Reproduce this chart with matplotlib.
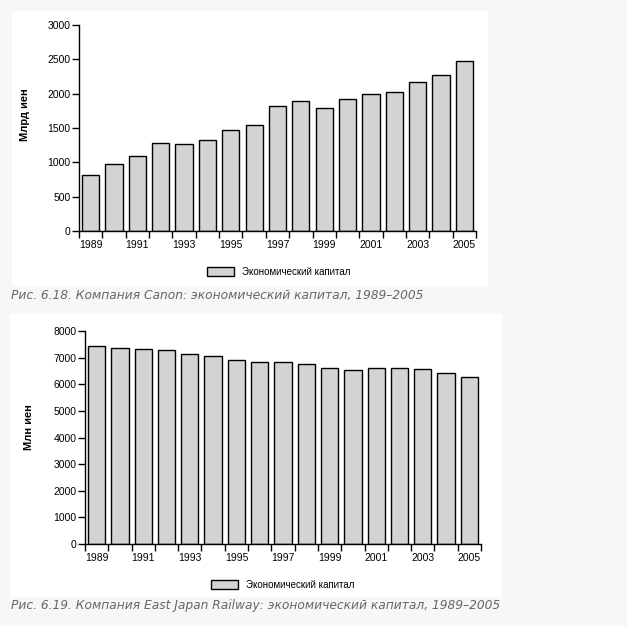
import matplotlib
matplotlib.use("Agg")
import matplotlib.pyplot as plt
from matplotlib.patches import Rectangle

years = list(range(1989, 2006))
year_labels = [str(y) if (y - 1989) % 2 == 0 else "" for y in years]
canon_capital = [810, 970, 1087, 1277, 1262, 1320, 1466, 1539, 1816, 1888,
                 1786, 1917, 1990, 2019, 2165, 2267, 2471]
jr_east_capital = [7453, 7378, 7341, 7303, 7154, 7079, 6929, 6854, 6854, 6742,
                   6629, 6517, 6629, 6629, 6554, 6404, 6255]
series_name = "Экономический капитал"
caption_top = "Рис. 6.18. Компания Canon: экономический капитал, 1989–2005"
caption_bottom = "Рис. 6.19. Компания East Japan Railway: экономический капитал, 1989–2005"

W, H = 627, 626
fig = plt.figure(figsize=(W / 100, H / 100), dpi=100)
fig.patch.set_facecolor("#f7f7f7")

def fx(px):
    return px / W

def fy(py):
    return 1 - py / H

def panel(x0, y0, x1, y1):
    fig.patches.append(Rectangle((fx(x0), fy(y1)), fx(x1 - x0), (y1 - y0) / H,
                                 transform=fig.transFigure, facecolor="white",
                                 edgecolor="none", zorder=-5))

def draw_chart(left, right, top, bottom, values, ymax, ystep, ylabel, ylabel_y,
               ylabel_x, legend_y, legend_x):
    ax = fig.add_axes([fx(left), fy(bottom), fx(right - left), (bottom - top) / H])
    ax.set_zorder(2)
    ax.set_facecolor("none")
    x = list(range(len(years)))
    bars = ax.bar(x, values, width=0.74, color="#d3d3d3", edgecolor="black",
                  linewidth=1.0, label=series_name, zorder=2)
    ax.set_xlim(-0.5, len(years) - 0.5)
    ax.set_ylim(0, ymax)
    ax.set_yticks(list(range(0, ymax + 1, ystep)))
    ax.set_xticks([i - 0.5 for i in range(len(years) + 1)])
    ax.set_xticklabels([])
    ax.set_xticks(x, minor=True)
    ax.set_xticklabels(year_labels, minor=True)
    for s in ["top", "right"]:
        ax.spines[s].set_visible(False)
    for s in ["left", "bottom"]:
        ax.spines[s].set_linewidth(1.0)
    ax.tick_params(axis="y", length=5, width=1.0, pad=1, labelsize=7.5)
    ax.tick_params(axis="x", which="major", length=5, width=1.0)
    ax.tick_params(axis="x", which="minor", length=0, pad=6.5, labelsize=7.5)
    for lab in ax.get_yticklabels() + ax.get_xticklabels(minor=True):
        lab.set_fontfamily("Liberation Sans")
    fig.text(fx(ylabel_x), fy(ylabel_y), ylabel, rotation=90, ha="center",
             va="center", fontsize=8, fontweight="bold", family="Liberation Sans",
             zorder=3)
    leg = fig.legend(handles=[bars], labels=[series_name], loc="center",
                     bbox_to_anchor=(fx(legend_x), fy(legend_y)), frameon=False,
                     prop={"family": "Liberation Sans", "size": 7},
                     handlelength=2.8, handleheight=1.0, handletextpad=0.8)
    leg.set_zorder(3)
    return ax

panel(12, 11, 488, 286)
panel(10, 314, 502, 597)

draw_chart(79, 476, 25, 231, canon_capital, 3000, 500, "Млрд иен", 115, 25, 272, 279)
draw_chart(85, 481, 331, 544, jr_east_capital, 8000, 1000, "Млн иен", 427, 29, 585, 283)

fig.text(fx(11), fy(295), caption_top, ha="left", va="center", fontsize=8.8,
         style="italic", color="#666666", family="DejaVu Sans", zorder=3)
fig.text(fx(11), fy(606), caption_bottom, ha="left", va="center", fontsize=8.8,
         style="italic", color="#666666", family="DejaVu Sans", zorder=3)

fig.savefig("out.png", dpi=100, facecolor=fig.get_facecolor())
